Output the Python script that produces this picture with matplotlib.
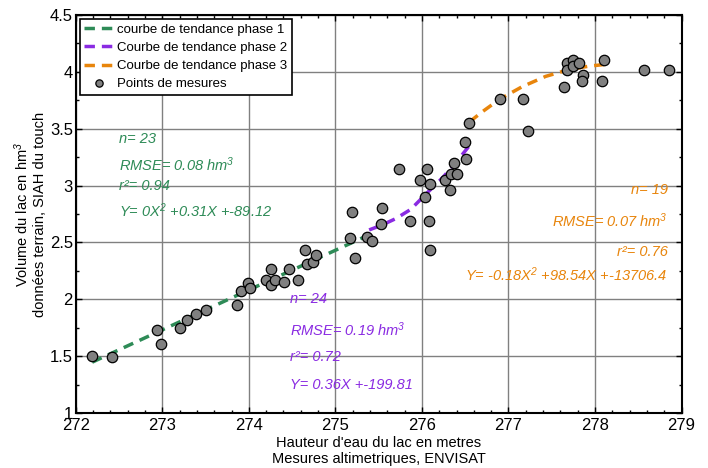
import matplotlib
matplotlib.use('Agg')
import matplotlib.pyplot as plt
from matplotlib.ticker import MultipleLocator

# measured points (height m, volume hm3)
hauteur = [272.19, 272.42, 272.94,272.98, 273.20, 273.29, 273.39, 273.50, 273.86, 273.91,
           273.99, 274.01, 274.20, 274.26, 274.26, 274.30, 274.41, 274.46, 274.57, 274.65,
           274.67, 274.74, 274.78, 275.17, 275.19, 275.23, 275.36, 275.42, 275.53, 275.54,
           275.74, 275.86, 275.98, 276.06, 276.08, 276.09, 276.09, 276.04, 276.27, 276.32,
           276.34, 276.37, 276.41, 276.51, 276.50, 276.54, 276.90, 277.17, 277.23, 277.64,
           277.68, 277.68, 277.75, 277.75, 277.81, 277.86, 277.85, 278.08, 278.10, 278.57,
           278.85]
volume = [1.50, 1.49, 1.73, 1.61, 1.75, 1.82, 1.87, 1.91, 1.95, 2.07,
          2.14, 2.10, 2.17, 2.27, 2.13, 2.17, 2.15, 2.27, 2.17, 2.43,
          2.31, 2.33, 2.39, 2.54, 2.77, 2.36, 2.55, 2.51, 2.66, 2.80,
          3.15, 2.69, 3.05, 3.15, 2.69, 3.01, 2.43, 2.90, 3.05, 2.96,
          3.10, 3.20, 3.10, 3.23, 3.38, 3.55, 3.76, 3.76, 3.48, 3.87,
          4.08, 4.02, 4.10, 4.05, 4.08, 3.97, 3.92, 3.92, 4.10, 4.02,
          4.02]

# trend curves
tend1_x = [272.19, 273.78, 275.37]
tend1_y = [1.447, 2.005, 2.56]
tend2_x = [275.39, 275.53, 275.70, 275.87, 276.04, 276.24, 276.39, 276.58]
tend2_y = [2.61, 2.65, 2.71, 2.79, 2.92, 3.07, 3.20, 3.38]
tend3_x = [276.55, 276.70, 276.90, 277.16, 277.43, 277.70, 277.93, 278.18]
tend3_y = [3.56, 3.65, 3.76, 3.87, 3.96, 4.02, 4.05, 4.07]

txt1 = ['n= 23', 'RMSE= 0.08 hm$^3$', 'r²= 0.94', 'Y= 0X$^2$ +0.31X +-89.12']
txt2 = ['n= 24', 'RMSE= 0.19 hm$^3$', 'r²= 0.72', 'Y= 0.36X +-199.81']
txt3 = ['n= 19', 'RMSE= 0.07 hm$^3$', 'r²= 0.76', 'Y= -0.18X$^2$ +98.54X +-13706.4']

vert = '#2E8B57'
violet = '#8A2BE2'
orange = '#E8850C'

plt.rcParams['font.family'] = ['Liberation Sans', 'DejaVu Sans']
plt.rcParams['mathtext.fontset'] = 'custom'
plt.rcParams['mathtext.rm'] = 'Liberation Sans:italic'
plt.rcParams['mathtext.it'] = 'Liberation Sans:italic'

fig = plt.figure(figsize=(7.08, 4.68), dpi=100)
ax = fig.add_axes([0.107, 0.1175, 0.8556, 0.8505])

ax.grid(True, which='major', color='#808080', linewidth=1)
ax.set_axisbelow(True)

ax.plot(tend1_x, tend1_y, '--', color=vert, lw=2.5, dashes=(3, 2), label='courbe de tendance phase 1')
ax.plot(tend2_x, tend2_y, '--', color=violet, lw=2.5, dashes=(3, 2), label='Courbe de tendance phase 2')
ax.plot(tend3_x, tend3_y, '--', color=orange, lw=2.5, dashes=(3, 2), label='Courbe de tendance phase 3')
ax.plot(hauteur, volume, 'o', color='#808080', mec='black', mew=0.9, ms=7.5,
        label='Points de mesures', zorder=5)

ax.set_xlim(272, 279)
ax.set_ylim(1, 4.5)
ax.xaxis.set_major_locator(MultipleLocator(1))
ax.xaxis.set_minor_locator(MultipleLocator(0.2))
ax.yaxis.set_major_locator(MultipleLocator(0.5))
ax.yaxis.set_minor_locator(MultipleLocator(0.25))
ax.set_yticks([1, 1.5, 2, 2.5, 3, 3.5, 4, 4.5])
ax.set_yticklabels(['1', '1.5', '2', '2.5', '3', '3.5', '4', '4.5'])
ax.tick_params(which='both', direction='in', top=True, right=True, labelsize=12,
               length=4, width=1)
ax.tick_params(which='minor', length=2.5)
ax.tick_params(axis='y', pad=2)
for lab in ax.get_xticklabels() + ax.get_yticklabels():
    lab.set_family(['Liberation Sans Narrow', 'Liberation Sans'])
for s in ax.spines.values():
    s.set_linewidth(1.5)

ax.set_xlabel("Hauteur d'eau du lac en metres\nMesures altimetriques, ENVISAT", fontsize=10.5,
              labelpad=2, family=['Liberation Sans Narrow', 'Liberation Sans'])
ax.set_ylabel('Volume du lac en hm$^3$\ndonnées terrain, SIAH du touch', fontsize=10.5,
              labelpad=2, family=['Liberation Sans Narrow', 'Liberation Sans'])

fs = 10.5
for t, yy in zip(txt1, [3.41, 3.18, 3.0, 2.78]):
    ax.text(272.5, yy, t, color=vert, style='italic', fontsize=fs, va='center', ha='left')
for t, yy in zip(txt2, [2.0, 1.73, 1.49, 1.25]):
    ax.text(274.47, yy, t, color=violet, style='italic', fontsize=fs, va='center', ha='left')
for t, yy in zip(txt3, [2.96, 2.69, 2.42, 2.22]):
    ax.text(278.84, yy, t, color=orange, style='italic', fontsize=fs, va='center', ha='right')

leg = ax.legend(loc='upper left', fontsize=9.5, fancybox=False, framealpha=1,
                edgecolor='black', handlelength=2.2, handletextpad=0.3, markerscale=0.7,
                borderpad=0.35, labelspacing=0.45, borderaxespad=0.3)
leg.get_frame().set_linewidth(1.2)

fig.savefig('out.png', dpi=100)
